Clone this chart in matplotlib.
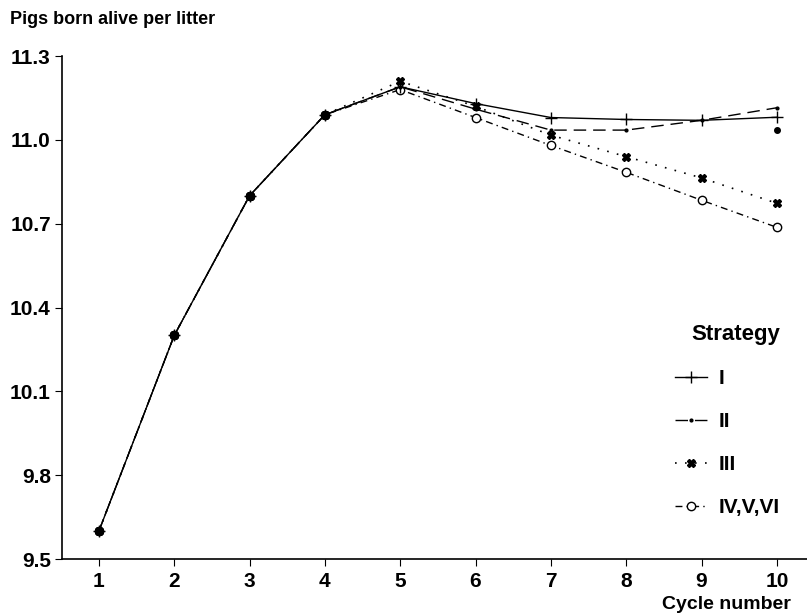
import matplotlib.pyplot as plt
import numpy as np

plt.rcParams['font.family'] = ['Liberation Sans', 'DejaVu Sans']
plt.rcParams['font.weight'] = 'bold'

cycles = [1, 2, 3, 4, 5, 6, 7, 8, 9, 10]
strat_I = [9.60, 10.30, 10.80, 11.09, 11.19, 11.13, 11.08, 11.073, 11.07, 11.081]
strat_II = [9.60, 10.30, 10.80, 11.09, 11.19, 11.11, 11.035, 11.035, 11.07, 11.115]
strat_III = [9.60, 10.30, 10.80, 11.09, 11.21, 11.12, 11.017, 10.94, 10.864, 10.773]
strat_IV = [9.60, 10.30, 10.80, 11.09, 11.18, 11.08, 10.98, 10.884, 10.784, 10.687]
extra_x = [10]
extra_y = [11.034]

y_ticks = [9.5, 9.8, 10.1, 10.4, 10.7, 11.0, 11.3]

fig = plt.figure(figsize=(8.07, 6.16), dpi=100)
ax = fig.add_axes([0.0768, 0.0925, 0.9232, 0.8165])

ax.plot(cycles, strat_IV, color='black', lw=1.0, ls=(0, (5, 3, 1, 3)), marker='o', ms=6,
        mfc='white', mew=1.0, label='IV,V,VI', zorder=2)
ax.plot(cycles, strat_I, color='black', lw=1.0, ls='-', marker='+', ms=8, mew=1.0, label='I', zorder=3)
ax.plot(cycles, strat_II, color='black', lw=1.0, ls=(0, (9, 5)), marker='.', ms=4, label='II', zorder=3)
ax.plot(cycles, strat_III, color='black', lw=1.2, ls=(0, (1, 5)), marker='X', ms=6, label='III', zorder=4)
ax.plot(extra_x, extra_y, color='black', ls='none', marker='o', ms=4)

ax.set_xlim(0.51, 10.4)
ax.set_ylim(9.5, 11.3)
ax.set_xticks(cycles)
ax.set_yticks(y_ticks)
ax.set_yticklabels([f'{v:.1f}' for v in y_ticks])
ax.tick_params(axis='both', labelsize=15, length=5, width=0.8)
ax.tick_params(axis='x', pad=4)
ax.tick_params(axis='y', pad=3)
for lab in ax.get_xticklabels() + ax.get_yticklabels():
    lab.set_fontweight('bold')

ax.spines['top'].set_visible(False)
ax.spines['right'].set_visible(False)
ax.spines['left'].set_linewidth(1.2)
ax.spines['bottom'].set_linewidth(1.2)

fig.text(0.012, 0.968, 'Pigs born alive per litter', fontsize=13, fontweight='bold',
         ha='left', va='center')
fig.text(0.98, 0.018, 'Cycle number', fontsize=14, fontweight='bold', ha='right', va='center')

handles, labels = ax.get_legend_handles_labels()
order = [1, 2, 3, 0]
leg = ax.legend([handles[i] for i in order], [labels[i] for i in order],
                title='Strategy', loc='upper left', bbox_to_anchor=(0.798, 0.504), frameon=False,
                fontsize=15, title_fontsize=16, handlelength=1.5, labelspacing=1.15,
                handletextpad=0.6, alignment='right')
leg.get_title().set_fontweight('bold')
for t in leg.get_texts():
    t.set_fontweight('bold')

fig.savefig('out.png', dpi=100)
